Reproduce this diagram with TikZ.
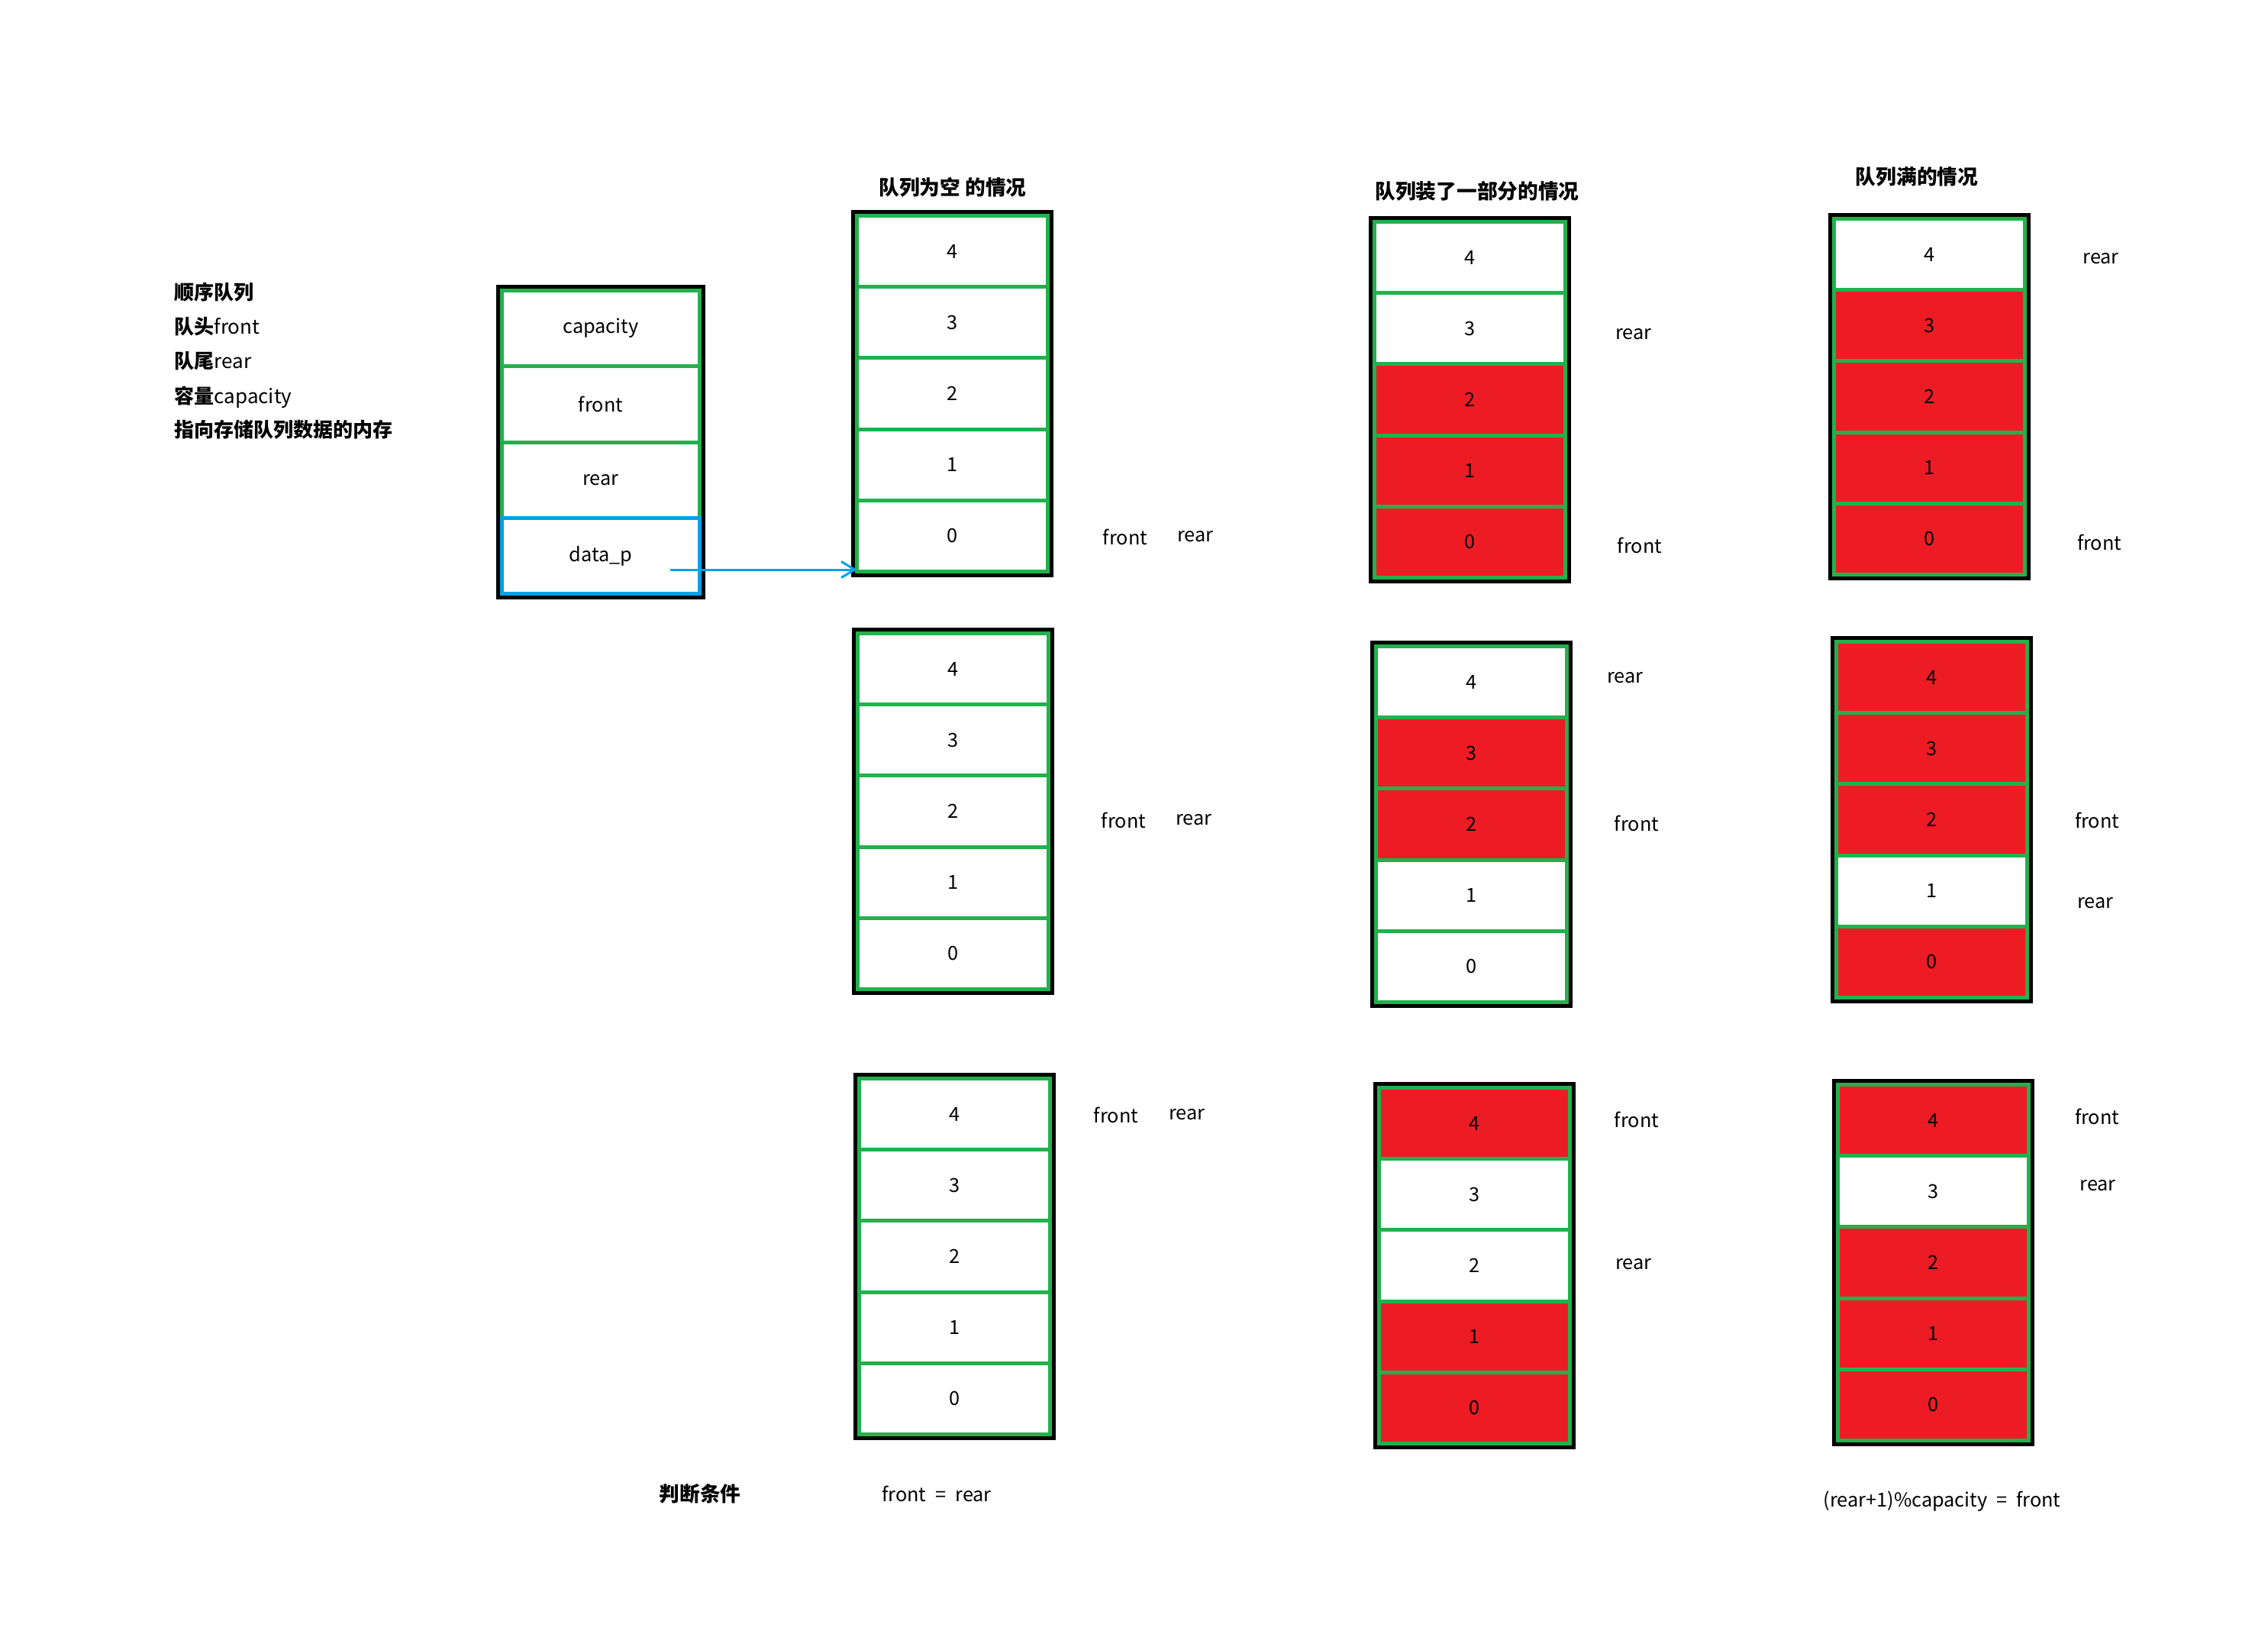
\documentclass[tikz,border=0pt]{standalone}
\usepackage{fontspec}
\setmainfont{Noto Sans CJK SC}
\usetikzlibrary{arrows.meta}
\definecolor{paintgreen}{RGB}{34,177,76}
\definecolor{paintred}{RGB}{237,28,36}
\definecolor{paintblue}{RGB}{0,162,232}

\tikzset{
    cell/.style={draw=paintgreen, line width=1.42pt, inner sep=0pt, outer sep=0pt,
        minimum width=2.5cm, minimum height=0.932cm, anchor=north west,
        font=\fontsize{7.2}{9}\selectfont},
    field/.style={cell, minimum width=2.59cm, minimum height=0.9925cm},
    frame/.style={draw=black, line width=1.42pt},
    lbl/.style={font=\fontsize{7.2}{9}\selectfont},
    note/.style={font=\fontsize{7.4}{9}\selectfont, anchor=west, inner sep=0pt},
    ttl/.style={font=\fontsize{7.6}{9}\selectfont\bfseries},
}

% one queue of five cells: name, left, top, fills from 4 down to 0
\newcommand{\qbox}[4]{
    \draw[frame] (#2+0.025,#3+0.025) rectangle ++(2.60,4.76);
    \foreach \c [count=\i from 0] in {#4} {
        \pgfmathtruncatemacro\idx{4-\i}
        \node[cell, fill=\c] (#1\idx) at (#2+0.075,#3+0.075+\i*0.932) {\idx};
    }
}

\begin{document}
\begin{tikzpicture}[y=-1cm]
    \useasboundingbox (0,0) rectangle (29.71,21.35);

    % Left notes
    \node[note] (t1) at (2.28,3.83) {\bfseries 顺序队列};
    \node[note] (t2) at (2.28,4.28) {{\bfseries 队头}front};
    \node[note] (t3) at (2.28,4.73) {{\bfseries 队尾}rear};
    \node[note] (t4) at (2.28,5.20) {{\bfseries 容量}capacity};
    \node[note] (t5) at (2.28,5.63) {\bfseries 指向存储队列数据的内存};

    % Queue struct
    \draw[frame] (6.525,3.755) rectangle ++(2.69,4.07);
    \node[field] (capa) at (6.575,3.805) {capacity};
    \node[field] (frnt) at (6.575,4.7975) {front};
    \node[field] (rr) at (6.575,5.79) {rear};
    \node[field, draw=paintblue] (datap) at (6.575,6.7825) {data\_p};

    % Titles
    \node[ttl] (tempty) at (12.48,2.45) {队列为空 的情况};
    \node[ttl] (tpart) at (19.35,2.50) {队列装了一部分的情况};
    \node[ttl] (tfull) at (25.11,2.31) {队列满的情况};

    % Empty queues
    \qbox{a1}{11.15}{2.75}{white,white,white,white,white}
    \qbox{a2}{11.16}{8.22}{white,white,white,white,white}
    \qbox{a3}{11.18}{14.05}{white,white,white,white,white}

    % Partly filled queues
    \qbox{b1}{17.93}{2.83}{white,white,paintred,paintred,paintred}
    \qbox{b2}{17.95}{8.39}{white,paintred,paintred,white,white}
    \qbox{b3}{17.99}{14.17}{paintred,white,white,paintred,paintred}

    % Full queues
    \qbox{c1}{23.95}{2.79}{white,paintred,paintred,paintred,paintred}
    \qbox{c2}{23.98}{8.33}{paintred,paintred,paintred,white,paintred}
    \qbox{c3}{24.00}{14.13}{paintred,white,paintred,paintred,paintred}

    % Pointer to the data
    \coordinate (ptr) at (8.78,7.46);
    \draw[paintblue, line width=0.85pt, -{Straight Barb[length=5pt,width=6pt]}] (ptr) -- (ptr -| a10.west);

    % front / rear marks
    \node[lbl] (a1f) at (14.74,7.03) {front};
    \node[lbl] (a1r) at (15.66,7.03) {rear};
    \node[lbl] (a2f) at (14.72,10.74) {front};
    \node[lbl] (a2r) at (15.64,10.74) {rear};
    \node[lbl] (a3f) at (14.62,14.60) {front};
    \node[lbl] (a3r) at (15.55,14.60) {rear};

    \node[lbl] (b1r) at (21.40,4.38) {rear};
    \node[lbl] (b1f) at (21.48,7.14) {front};
    \node[lbl] (b2r) at (21.29,8.88) {rear};
    \node[lbl] (b2f) at (21.44,10.78) {front};
    \node[lbl] (b3f) at (21.44,14.66) {front};
    \node[lbl] (b3r) at (21.40,16.56) {rear};

    \node[lbl] (c1r) at (27.52,3.39) {rear};
    \node[lbl] (c1f) at (27.50,7.10) {front};
    \node[lbl] (c2f) at (27.47,10.74) {front};
    \node[lbl] (c2r) at (27.45,11.83) {rear};
    \node[lbl] (c3f) at (27.47,14.62) {front};
    \node[lbl] (c3r) at (27.48,15.53) {rear};

    % Conditions
    \node[ttl] (cond) at (9.17,19.56) {判断条件};
    \node[lbl] (condempty) at (12.27,19.56) {front\hspace{0.25em} = \hspace{0.25em}rear};
    \node[lbl] (condfull) at (25.44,19.66) {(rear+1)\%capacity\hspace{0.25em} = \hspace{0.25em}front};
\end{tikzpicture}
\end{document}
